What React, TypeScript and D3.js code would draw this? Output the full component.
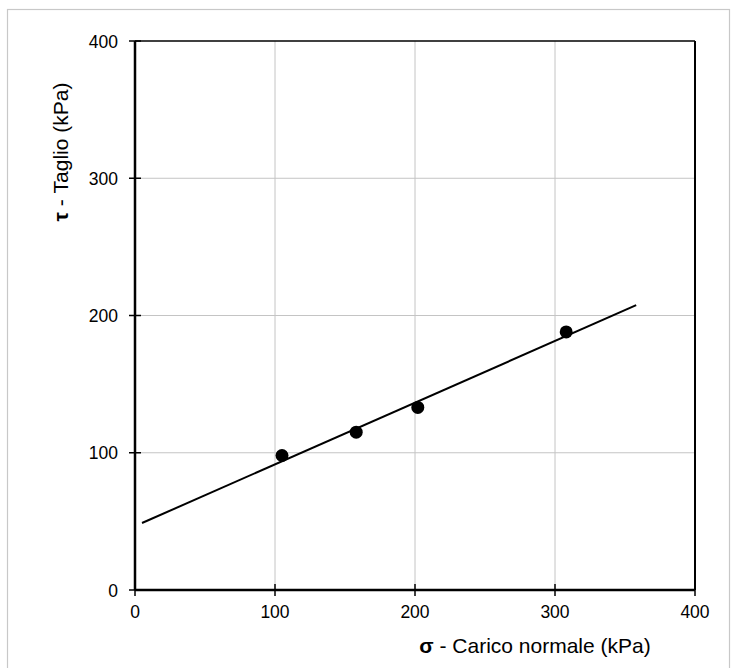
import * as d3 from "d3";
import { useRef, useEffect } from "react";

// measured points (sigma, tau) in kPa
const sigmaValues = [105, 158, 202, 308];
const tauValues = [98, 115, 133, 188];

// fitted line ends
const fitSigma = [5, 358];
const fitTau = [48.8, 207.5];

const xTicks = [0, 100, 200, 300, 400];
const yTicks = [0, 100, 200, 300, 400];

const FONT = "'Liberation Sans', Arial, sans-serif";

const App = () => {
  const ref = useRef<SVGSVGElement>(null);

  useEffect(() => {
    const svg = d3.select(ref.current);
    svg.selectAll("*").remove();

    const left = 135;
    const right = 695;
    const top = 41;
    const bottom = 590;

    const x = d3.scaleLinear().domain([0, 400]).range([left, right]);
    const y = d3.scaleLinear().domain([0, 400]).range([bottom, top]);

    // outer frame
    svg.append("rect")
      .attr("x", 7.5)
      .attr("y", 9.5)
      .attr("width", 722)
      .attr("height", 670)
      .attr("fill", "#fff")
      .attr("stroke", "#c8c8c8")
      .attr("stroke-width", 1.2);

    // grid
    const grid = svg.append("g").attr("stroke", "#c4c4c4").attr("stroke-width", 1);
    xTicks.slice(1, -1).forEach((t) => {
      grid.append("line")
        .attr("x1", x(t)).attr("x2", x(t))
        .attr("y1", top).attr("y2", bottom);
    });
    yTicks.slice(1, -1).forEach((t) => {
      grid.append("line")
        .attr("x1", left).attr("x2", right)
        .attr("y1", y(t)).attr("y2", y(t));
    });

    // top and right border of plot area
    svg.append("line")
      .attr("x1", left).attr("x2", right)
      .attr("y1", top).attr("y2", top)
      .attr("stroke", "#000").attr("stroke-width", 1.5);
    svg.append("line")
      .attr("x1", right).attr("x2", right)
      .attr("y1", top).attr("y2", bottom)
      .attr("stroke", "#000").attr("stroke-width", 2);

    // axes (ticks cross the axis line)
    const xAxis = svg.append("g");
    xAxis.append("line")
      .attr("x1", left).attr("x2", right)
      .attr("y1", bottom).attr("y2", bottom)
      .attr("stroke", "#000").attr("stroke-width", 2.5);
    xTicks.forEach((t) => {
      xAxis.append("line")
        .attr("x1", x(t)).attr("x2", x(t))
        .attr("y1", bottom - 6).attr("y2", bottom + 6)
        .attr("stroke", "#000").attr("stroke-width", 1.5);
      xAxis.append("text")
        .attr("x", x(t))
        .attr("y", bottom + 28)
        .attr("text-anchor", "middle")
        .attr("font-family", FONT)
        .attr("font-size", 17.5)
        .attr("fill", "#000")
        .text(t);
    });

    const yAxis = svg.append("g");
    yAxis.append("line")
      .attr("x1", left).attr("x2", left)
      .attr("y1", top).attr("y2", bottom)
      .attr("stroke", "#000").attr("stroke-width", 2.5);
    yTicks.forEach((t) => {
      yAxis.append("line")
        .attr("x1", left - 6).attr("x2", left + 6)
        .attr("y1", y(t)).attr("y2", y(t))
        .attr("stroke", "#000").attr("stroke-width", 1.5);
      yAxis.append("text")
        .attr("x", left - 17)
        .attr("y", y(t) + 6.5)
        .attr("text-anchor", "end")
        .attr("font-family", FONT)
        .attr("font-size", 17.5)
        .attr("fill", "#000")
        .text(t);
    });

    // fitted line
    const line = d3.line<number>()
      .x((d) => x(d))
      .y((_, i) => y(fitTau[i]));
    svg.append("path")
      .attr("d", line(fitSigma))
      .attr("fill", "none")
      .attr("stroke", "#000")
      .attr("stroke-width", 2);

    // points
    svg.append("g")
      .selectAll("circle")
      .data(sigmaValues)
      .join("circle")
      .attr("cx", (d) => x(d))
      .attr("cy", (_, i) => y(tauValues[i]))
      .attr("r", 6.5)
      .attr("fill", "#000");

    // axis titles
    const xTitle = svg.append("text")
      .attr("x", 535)
      .attr("y", 653)
      .attr("text-anchor", "middle")
      .attr("font-family", FONT)
      .attr("font-size", 21)
      .attr("fill", "#000");
    xTitle.append("tspan").attr("font-weight", "bold").text("σ");
    xTitle.append("tspan").text(" - Carico normale (kPa)");

    const yTitle = svg.append("text")
      .attr("transform", `translate(68, 152) rotate(-90)`)
      .attr("text-anchor", "middle")
      .attr("font-family", FONT)
      .attr("font-size", 21)
      .attr("fill", "#000");
    yTitle.append("tspan").attr("font-weight", "bold").text("τ");
    yTitle.append("tspan").text(" - Taglio (kPa)");
  }, []);

  return (
    <svg
      ref={ref}
      width={731}
      height={668}
      style={{ position: "absolute", left: 0, top: 0, display: "block" }}
    />
  );
};

export default App;
